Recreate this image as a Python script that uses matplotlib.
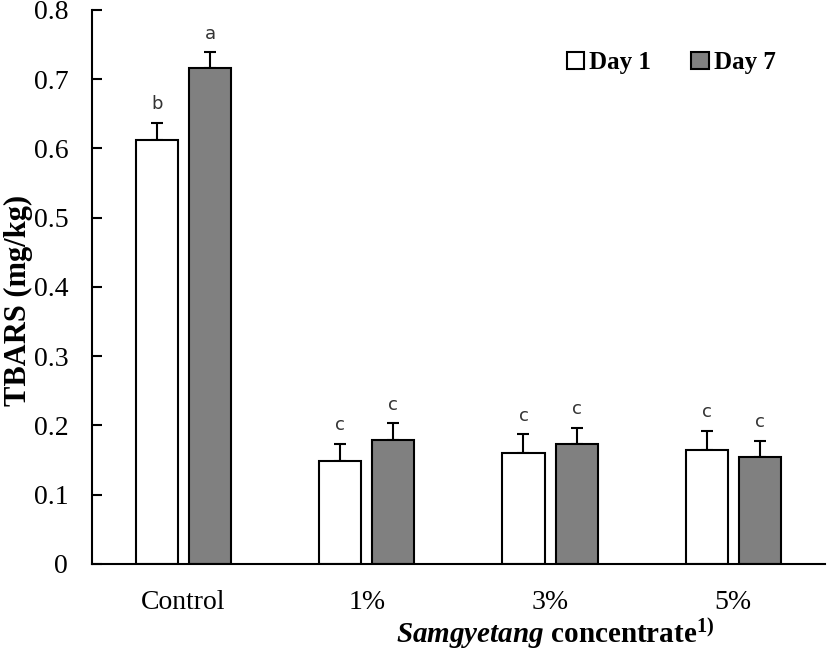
import numpy as np
import matplotlib
matplotlib.use('Agg')
import matplotlib.pyplot as plt
from matplotlib.patches import Patch

plt.rcParams['font.family'] = ['Liberation Serif', 'DejaVu Serif']
plt.rcParams['mathtext.fontset'] = 'custom'
plt.rcParams['mathtext.rm'] = 'Liberation Serif:bold'
plt.rcParams['mathtext.it'] = 'Liberation Serif:italic:bold'
plt.rcParams['mathtext.bf'] = 'Liberation Serif:bold'

# data
groups = ['Control', '1%', '3%', '5%']
day1 = [0.612, 0.149, 0.160, 0.165]
day1_err = [0.025, 0.024, 0.027, 0.027]
day7 = [0.716, 0.179, 0.173, 0.155]
day7_err = [0.023, 0.024, 0.024, 0.023]
day1_letters = ['b', 'c', 'c', 'c']
day7_letters = ['a', 'c', 'c', 'c']

fig = plt.figure(figsize=(8.27, 6.53), dpi=100)
ax = fig.add_axes([0.111, 0.1363, 0.8866, 0.8484])

x = np.arange(len(groups))
w = 0.23
off = 0.145

ax.bar(x - off, day1, w, color='white', edgecolor='black', linewidth=1.5, zorder=2)
ax.bar(x + off, day7, w, color='#808080', edgecolor='black', linewidth=1.5, zorder=2)
ax.errorbar(x - off, day1, yerr=[np.zeros(4), day1_err], fmt='none', ecolor='black',
            elinewidth=1.5, capsize=4.5, capthick=1.5, zorder=1)
ax.errorbar(x + off, day7, yerr=[np.zeros(4), day7_err], fmt='none', ecolor='black',
            elinewidth=1.5, capsize=4.5, capthick=1.5, zorder=1)

for xi, v, e, t in zip(x - off, day1, day1_err, day1_letters):
    ax.annotate(t, (xi, v + e), xytext=(0, 7), textcoords='offset points',
                ha='center', va='bottom', fontsize=13, family='DejaVu Sans', color='#333333')
for xi, v, e, t in zip(x + off, day7, day7_err, day7_letters):
    ax.annotate(t, (xi, v + e), xytext=(0, 7), textcoords='offset points',
                ha='center', va='bottom', fontsize=13, family='DejaVu Sans', color='#333333')

ax.set_xlim(-0.5, 3.5)
ax.set_ylim(0, 0.8)
ax.set_yticks(np.arange(0, 0.81, 0.1))
ax.set_yticklabels(['0'] + ['%.1f' % v for v in np.arange(0.1, 0.81, 0.1)])
ax.set_xticks(x)
ax.set_xticklabels(groups)
ax.tick_params(axis='y', direction='in', length=7, width=1.5, labelsize=20, pad=17)
ax.tick_params(axis='x', length=0, labelsize=20, pad=19)

for s in ['top', 'right']:
    ax.spines[s].set_visible(False)
for s in ['left', 'bottom']:
    ax.spines[s].set_linewidth(1.5)

ax.set_ylabel('TBARS (mg/kg)', fontsize=22, fontweight='bold', va='center')
ax.yaxis.set_label_coords(-0.1, 0.475)
ax.set_xlabel(r'$\mathit{Samgyetang}$ concentrate$^{1)}$', fontsize=21,
              fontweight='bold')
ax.xaxis.set_label_coords(0.632, -0.095)

handles = [Patch(facecolor='white', edgecolor='black', linewidth=1.5, label='Day 1'),
           Patch(facecolor='#808080', edgecolor='black', linewidth=1.5, label='Day 7')]
ax.legend(handles=handles, loc='upper right', bbox_to_anchor=(0.963, 0.966), ncol=2,
          frameon=False, handlelength=0.7, handleheight=0.7, handletextpad=0.2,
          columnspacing=1.6, prop={'size': 18, 'weight': 'bold'})

fig.savefig('out.png', dpi=100)
